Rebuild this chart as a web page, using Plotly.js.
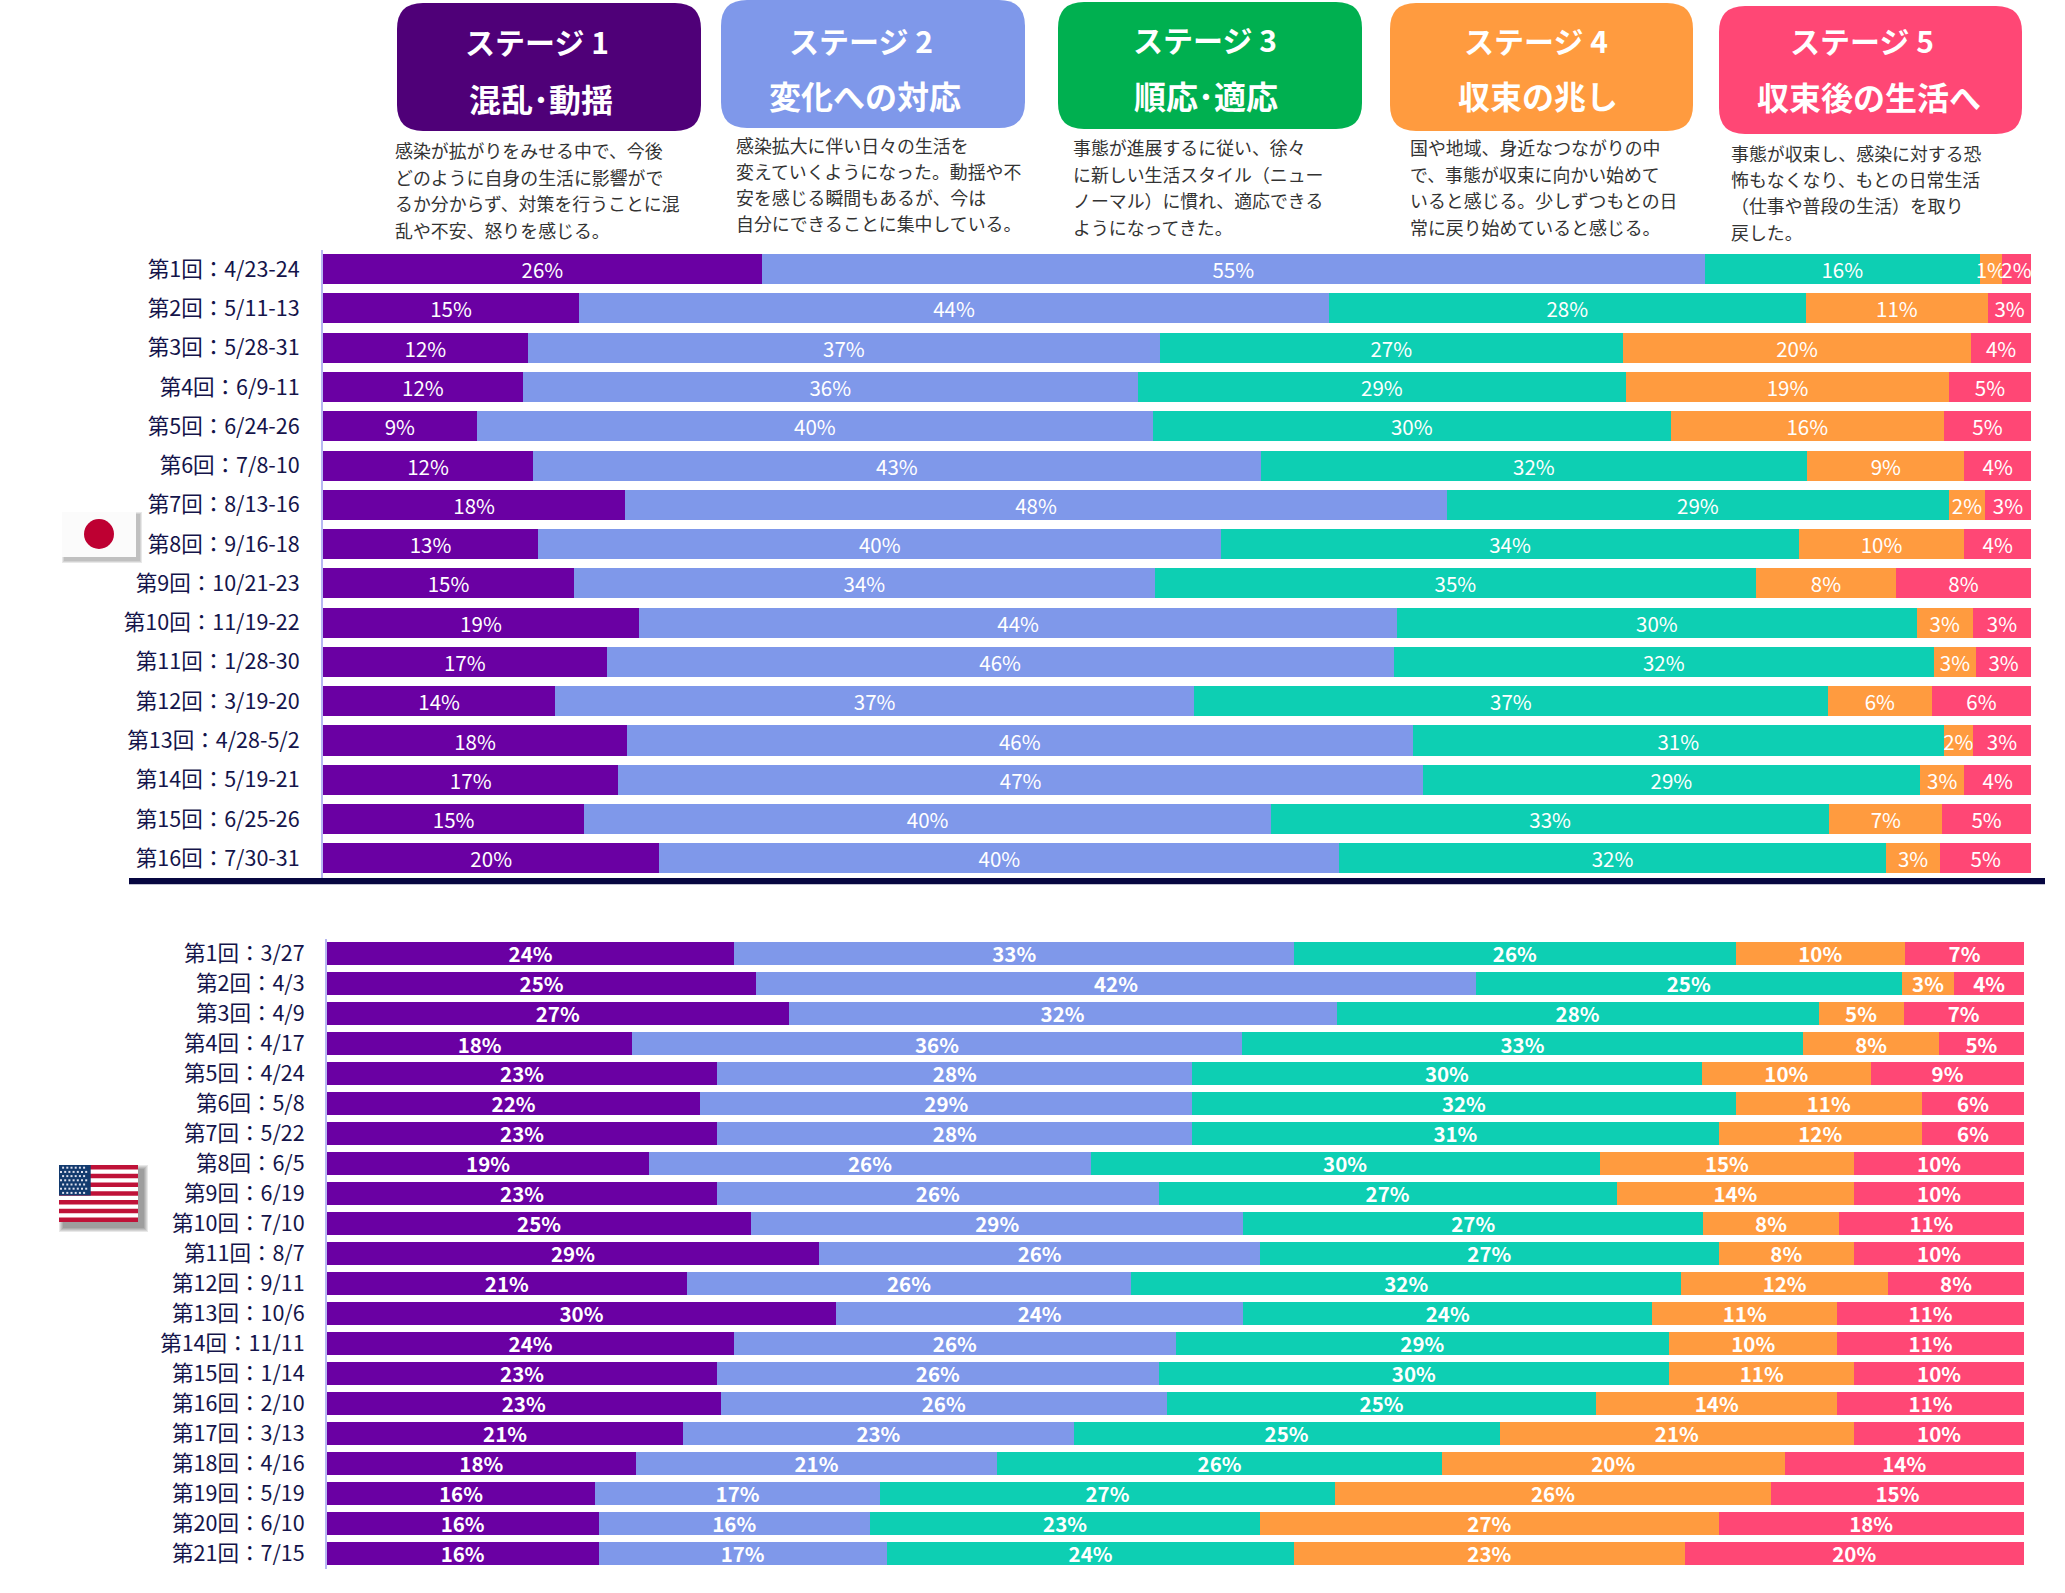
<!DOCTYPE html>
<html>
<head>
<meta charset="utf-8">
<script src="https://cdn.plot.ly/plotly-3.0.1.min.js"></script>
<style>html,body{margin:0;padding:0;background:#fff;overflow:hidden}</style>
</head>
<body>
<div id="graph" style="width:2065px;height:1593px"></div>
<script>
var W = 2065, H = 1593;
var font = '"Noto Sans CJK JP", "Noto Sans", sans-serif';

var stageColors = ['#6A00A3', '#7F98EA', '#0DCFB3', '#FF9B3F', '#FF4775'];
var stageNames = ['ステージ 1', 'ステージ 2', 'ステージ 3', 'ステージ 4', 'ステージ 5'];
var stageTitles = ['混乱･動揺', '変化への対応', '順応･適応', '収束の兆し', '収束後の生活へ'];
var boxColors = ['#4F0078', '#7F98EA', '#00B050', '#FF9B3F', '#FF4775'];

var stageText = [
  ['感染が拡がりをみせる中で、今後', 'どのように自身の生活に影響がで', 'るか分からず、対策を行うことに混', '乱や不安、怒りを感じる。'],
  ['感染拡大に伴い日々の生活を', '変えていくようになった。動揺や不', '安を感じる瞬間もあるが、今は', '自分にできることに集中している。'],
  ['事態が進展するに従い、徐々', 'に新しい生活スタイル（ニュー', 'ノーマル）に慣れ、適応できる', 'ようになってきた。'],
  ['国や地域、身近なつながりの中', 'で、事態が収束に向かい始めて', 'いると感じる。少しずつもとの日', '常に戻り始めていると感じる。'],
  ['事態が収束し、感染に対する恐', '怖もなくなり、もとの日常生活', '（仕事や普段の生活）を取り', '戻した。']
];

var jpLabels = ['第1回：4/23-24', '第2回：5/11-13', '第3回：5/28-31', '第4回：6/9-11', '第5回：6/24-26', '第6回：7/8-10', '第7回：8/13-16', '第8回：9/16-18',
  '第9回：10/21-23', '第10回：11/19-22', '第11回：1/28-30', '第12回：3/19-20', '第13回：4/28-5/2', '第14回：5/19-21', '第15回：6/25-26', '第16回：7/30-31'];
var jp1 = [25.7, 15.0, 12.0, 11.7, 9.0, 12.3, 17.7, 12.6, 14.7, 18.5, 16.6, 13.6, 17.8, 17.3, 15.3, 19.7];
var jp2 = [55.2, 43.9, 37.0, 36.0, 39.6, 42.6, 48.1, 40.0, 34.0, 44.4, 46.1, 37.4, 46.0, 47.1, 40.2, 39.8];
var jp3 = [16.1, 27.9, 27.1, 28.6, 30.3, 32.0, 29.4, 33.8, 35.2, 30.4, 31.6, 37.1, 31.1, 29.1, 32.7, 32.0];
var jp4 = [1.3, 10.7, 20.4, 18.9, 16.0, 9.2, 2.1, 9.7, 8.2, 3.3, 2.5, 6.1, 1.7, 2.6, 6.6, 3.2];
var jp5 = [1.7, 2.5, 3.5, 4.8, 5.1, 3.9, 2.7, 3.9, 7.9, 3.4, 3.2, 5.8, 3.4, 3.9, 5.2, 5.3];

var usLabels = ['第1回：3/27', '第2回：4/3', '第3回：4/9', '第4回：4/17', '第5回：4/24', '第6回：5/8', '第7回：5/22', '第8回：6/5', '第9回：6/19', '第10回：7/10', '第11回：8/7',
  '第12回：9/11', '第13回：10/6', '第14回：11/11', '第15回：1/14', '第16回：2/10', '第17回：3/13', '第18回：4/16', '第19回：5/19', '第20回：6/10', '第21回：7/15'];
var us1 = [24.0, 25.3, 27.2, 18.0, 23.0, 22.0, 23.0, 19.0, 23.0, 25.0, 29.0, 21.2, 30.0, 24.0, 23.0, 23.2, 21.0, 18.2, 15.8, 16.0, 16.0];
var us2 = [33.0, 42.4, 32.3, 35.9, 28.0, 29.0, 28.0, 26.0, 26.0, 29.0, 26.0, 26.2, 24.0, 26.0, 26.0, 26.3, 23.0, 21.3, 16.8, 16.0, 17.0];
var us3 = [26.0, 25.1, 28.4, 33.1, 30.0, 32.0, 31.0, 30.0, 27.0, 27.1, 27.0, 32.4, 24.1, 29.1, 30.1, 25.3, 25.1, 26.2, 26.8, 23.0, 24.0];
var us4 = [10.0, 3.1, 5.0, 8.0, 10.0, 11.0, 12.0, 15.0, 14.0, 8.0, 8.0, 12.2, 10.9, 9.9, 10.9, 14.2, 20.9, 20.2, 25.7, 27.0, 23.0];
var us5 = [7.0, 4.1, 7.1, 5.0, 9.0, 6.0, 6.0, 10.0, 10.0, 10.9, 10.0, 8.0, 11.0, 11.0, 10.0, 11.0, 10.0, 14.1, 14.9, 18.0, 20.0];

var boxes = [[397, 3, 701, 131], [721, 0, 1025, 128], [1058, 2, 1362, 129], [1390, 3, 1693, 131], [1719, 6, 2022, 134]];
var nameX = [537, 861, 1205, 1536, 1862], nameY = [41, 40, 39, 40, 40];
var titleX = [541, 865, 1206, 1538, 1869], titleY = [98, 95, 95, 95, 96];
var textX = [393, 734, 1071, 1408, 1729];
var textY = [[150, 177, 203, 230], [145, 171, 197, 223], [147, 174, 200, 227], [147, 174, 200, 227], [153, 179, 205, 232]];

function px(x) { return x / W; }
function py(y) { return 1 - y / H; }

function roundBox(b, r) {
  var x0 = px(b[0]), x1 = px(b[2]), y0 = py(b[1]), y1 = py(b[3]);
  var rx = r / W, ry = r / H;
  return 'M' + (x0 + rx) + ',' + y0 + ' L' + (x1 - rx) + ',' + y0 + ' Q' + x1 + ',' + y0 + ' ' + x1 + ',' + (y0 - ry) +
    ' L' + x1 + ',' + (y1 + ry) + ' Q' + x1 + ',' + y1 + ' ' + (x1 - rx) + ',' + y1 +
    ' L' + (x0 + rx) + ',' + y1 + ' Q' + x0 + ',' + y1 + ' ' + x0 + ',' + (y1 + ry) +
    ' L' + x0 + ',' + (y0 - ry) + ' Q' + x0 + ',' + y0 + ' ' + (x0 + rx) + ',' + y0 + ' Z';
}

function rect(x0, y0, x1, y1, color, opacity) {
  return {
    type: 'rect', xref: 'paper', yref: 'paper', layer: 'above',
    x0: px(x0), x1: px(x1), y0: py(y0), y1: py(y1),
    fillcolor: color, opacity: opacity === undefined ? 1 : opacity, line: { width: 0 }
  };
}

// soft drop shadow made of stacked translucent rects
function shadow(x0, y0, x1, y1, dx, dy, steps) {
  for (var s = steps; s > 0; s--) {
    shapes.push(rect(x0 + dx - s, y0 + dy - s, x1 + dx + s, y1 + dy + s, '#000', 0.09));
  }
}

function barTrace(values, labels, i, xa, ya, bold) {
  return {
    type: 'bar', orientation: 'h', x: values, y: labels, xaxis: xa, yaxis: ya,
    marker: { color: stageColors[i], line: { width: 0 } },
    text: values.map(function (v) { return Math.round(v) + '%'; }),
    textposition: 'inside', insidetextanchor: 'middle', constraintext: 'none', textangle: 0,
    textfont: { family: font, size: 20.5, color: '#fff', weight: bold ? 'bold' : 'normal' },
    hoverinfo: 'skip', showlegend: false
  };
}

var shapes = [], annotations = [];

boxes.forEach(function (b, i) {
  shapes.push({ type: 'path', xref: 'paper', yref: 'paper', path: roundBox(b, 26), fillcolor: boxColors[i], line: { width: 0 }, layer: 'below' });
  annotations.push({
    xref: 'paper', yref: 'paper', x: px(nameX[i]), y: py(nameY[i]), xanchor: 'center', yanchor: 'middle', showarrow: false,
    text: '<b>' + stageNames[i] + '</b>', font: { family: font, size: 30, color: '#fff' }
  });
  annotations.push({
    xref: 'paper', yref: 'paper', x: px(titleX[i]), y: py(titleY[i]), xanchor: 'center', yanchor: 'middle', showarrow: false,
    text: '<b>' + stageTitles[i] + '</b>', font: { family: font, size: 32, color: '#fff' }
  });
  stageText[i].forEach(function (line, j) {
    annotations.push({
      xref: 'paper', yref: 'paper', x: px(textX[i]), y: py(textY[i][j]), xanchor: 'left', yanchor: 'middle', showarrow: false,
      text: line, font: { family: font, size: 17.9, color: '#333' }
    });
  });
});

// divider between the two panels
shapes.push(rect(129, 879, 2045, 885, '#0A0A4A', 0.25));
shapes.push(rect(129, 878, 2045, 884, '#060640'));

// japan flag
shadow(62, 512, 136, 557, 3, 3, 3);
shapes.push(rect(62, 512, 136, 557, '#FBFBFB'));
shapes.push({ type: 'circle', xref: 'paper', yref: 'paper', layer: 'above', x0: px(84), x1: px(114), y0: py(519), y1: py(549), fillcolor: '#BE0032', line: { width: 0 } });

// us flag
shadow(59, 1165, 138, 1222, 5, 5, 5);
shapes.push(rect(59, 1165, 138, 1222, '#fff'));
for (var k = 0; k < 13; k += 2) {
  shapes.push(rect(59, 1165 + k * 57 / 13, 138, 1165 + (k + 1) * 57 / 13, '#BF1238'));
}
shapes.push(rect(59, 1165, 90.7, 1195.5, '#133A6E'));
for (var row = 0; row < 7; row++) {
  var cols = row % 2 ? 7 : 6;
  for (var col = 0; col < cols; col++) {
    var sx = 61 + (row % 2 ? 0 : 2.1) + col * 4.2, sy = 1167.7 + row * 4.2;
    shapes.push(rect(sx - 1, sy - 1, sx + 1, sy + 1, '#DDE0EE'));
  }
}

var data = [];
[jp1, jp2, jp3, jp4, jp5].forEach(function (v, i) { data.push(barTrace(v, jpLabels, i, 'x', 'y', false)); });
[us1, us2, us3, us4, us5].forEach(function (v, i) { data.push(barTrace(v, usLabels, i, 'x2', 'y2', true)); });

function catAxis(domain, anchor, ticklen) {
  return {
    domain: domain, anchor: anchor, type: 'category', autorange: 'reversed', dtick: 1,
    showgrid: false, zeroline: false, showline: true, linecolor: '#B7B7F2', linewidth: 2,
    ticks: 'outside', ticklen: ticklen, tickcolor: 'rgba(0,0,0,0)',
    tickfont: { family: font, size: 21.5, color: '#14144A' }
  };
}

function valAxis(domain, anchor) {
  return { domain: domain, anchor: anchor, range: [0, 100], visible: false, fixedrange: true };
}

var layout = {
  width: W, height: H,
  margin: { l: 0, r: 0, t: 0, b: 0 },
  paper_bgcolor: '#fff', plot_bgcolor: '#fff',
  barmode: 'stack', bargap: 0.235,
  xaxis: valAxis([px(323), px(2031)], 'y'),
  yaxis: catAxis([py(878), py(249.5)], 'x', 17),
  xaxis2: valAxis([px(327), px(2024)], 'y2'),
  yaxis2: catAxis([py(1568.5), py(938.5)], 'x2', 16),
  shapes: shapes,
  annotations: annotations
};

Plotly.newPlot('graph', data, layout, { staticPlot: true, displayModeBar: false });
</script>
</body>
</html>
